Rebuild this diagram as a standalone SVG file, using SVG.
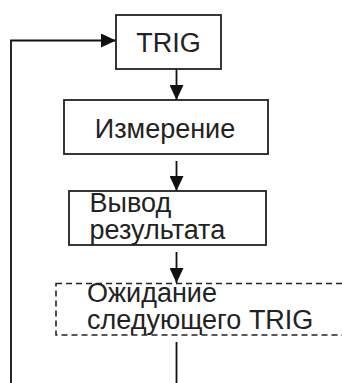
<svg xmlns="http://www.w3.org/2000/svg" width="342" height="383" viewBox="0 0 342 383">
<style>
.box{fill:#fff;stroke:#222;stroke-width:1.8}
.dash{fill:#fff;stroke:#222;stroke-width:1.6;stroke-dasharray:6 4}
.ln{fill:none;stroke:#111;stroke-width:1.8}
text{font-family:"Liberation Sans",Arial,sans-serif;font-size:27px;fill:#222}
</style>
<defs>
<marker id="ah" markerUnits="userSpaceOnUse" markerWidth="15" markerHeight="14" refX="15" refY="7" orient="auto">
<path d="M0,0 L15,7 L0,14 Z" fill="#111"/>
</marker>
</defs>
<rect width="342" height="383" fill="#fff"/>
<g id="connectors">
<path class="ln" d="M11,383 V40.5 H116" marker-end="url(#ah)"/>
<path class="ln" d="M176.5,69 V100" marker-end="url(#ah)"/>
<path class="ln" d="M176.5,161 V191" marker-end="url(#ah)"/>
<path class="ln" d="M176.5,252 V283" marker-end="url(#ah)"/>
<path class="ln" d="M176.5,342 V383"/>
</g>
<g id="n_trig">
<rect class="box" x="116" y="15" width="105" height="54"/>
<text x="168.5" y="52" text-anchor="middle">TRIG</text>
</g>
<g id="n_measure">
<rect class="box" x="64" y="100" width="204" height="54"/>
<text x="165" y="138" text-anchor="middle">Измерение</text>
</g>
<g id="n_output">
<rect class="box" x="69" y="191" width="197" height="54"/>
<text x="89.5" y="211.5">Вывод</text>
<text x="89.5" y="238.5">результата</text>
</g>
<g id="n_wait">
<rect class="dash" x="56" y="283.5" width="300" height="51.5"/>
<text x="87" y="301.5">Ожидание</text>
<text x="87" y="328.5">следующего TRIG</text>
</g>
</svg>
